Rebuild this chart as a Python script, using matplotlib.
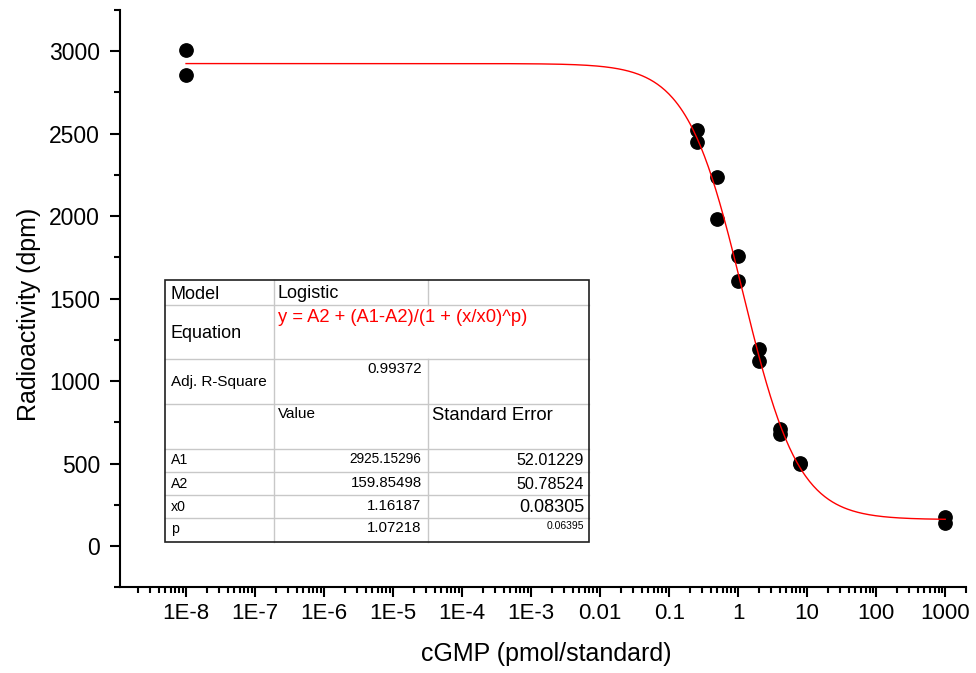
import numpy as np
import matplotlib
matplotlib.use("Agg")
import matplotlib.pyplot as plt
from matplotlib.ticker import FixedLocator, MultipleLocator, LogLocator, NullFormatter
from matplotlib.patches import Rectangle

plt.rcParams["font.family"] = ["Liberation Sans", "DejaVu Sans"]

# cGMP standards (duplicates) and measured radioactivity
CGMP = [1e-8, 1e-8, 0.25, 0.25, 0.5, 0.5, 1, 1, 2, 2, 4, 4, 8, 8, 1000, 1000]
DPM = [3005, 2858, 2525, 2452, 2238, 1983, 1757, 1605, 1192, 1121, 712, 677, 504, 498, 178, 137]

# logistic fit results
PARAM_NAMES = ["A1", "A2", "x0", "p"]
PARAM_VALUES = [2925.15296, 159.85498, 1.16187, 1.07218]
PARAM_ERRORS = [52.01229, 50.78524, 0.08305, 0.06395]
ADJ_R2 = 0.99372
MODEL = "Logistic"
EQUATION = "y = A2 + (A1-A2)/(1 + (x/x0)^p)"

X_TICKS = [1e-8, 1e-7, 1e-6, 1e-5, 1e-4, 1e-3, 1e-2, 1e-1, 1, 10, 100, 1000]
X_TICK_LABELS = ["1E-8", "1E-7", "1E-6", "1E-5", "1E-4", "1E-3",
                 "0.01", "0.1", "1", "10", "100", "1000"]
Y_TICKS = [0, 500, 1000, 1500, 2000, 2500, 3000]

W, H = 976, 673


def logistic(x, a1, a2, x0, p):
    return a2 + (a1 - a2) / (1 + (x / x0) ** p)


def draw_fit_table(tab):
    cols = [165, 273.5, 427.5, 589]
    rows = [280, 304.5, 358.5, 403.5, 448.5, 471.7, 495, 518.3, 541.5]
    grid = "#c8c8c8"

    tab.add_patch(Rectangle((cols[0], rows[0]), cols[-1] - cols[0], rows[-1] - rows[0],
                            facecolor="white", edgecolor="none", zorder=1))
    for y in rows[1:-1]:
        tab.plot([cols[0], cols[-1]], [y, y], color=grid, lw=1.0, zorder=2)
    tab.plot([cols[1], cols[1]], [rows[0], rows[-1]], color=grid, lw=1.0, zorder=2)
    # equation cell spans the last two columns
    tab.plot([cols[2], cols[2]], [rows[0], rows[1]], color=grid, lw=1.0, zorder=2)
    tab.plot([cols[2], cols[2]], [rows[2], rows[-1]], color=grid, lw=1.0, zorder=2)
    tab.add_patch(Rectangle((cols[0], rows[0]), cols[-1] - cols[0], rows[-1] - rows[0],
                            facecolor="none", edgecolor="#202020", lw=1.2, zorder=3))

    lx = cols[0] + 6
    vx = cols[2] - 6
    ex = cols[3] - 5
    kw = dict(va="baseline", zorder=4)
    tab.text(lx, 299, "Model", fontsize=13, **kw)
    tab.text(cols[1] + 4, 298, MODEL, fontsize=13, **kw)
    tab.text(lx, 337.5, "Equation", fontsize=13, **kw)
    tab.text(cols[1] + 4, 321.5, EQUATION, fontsize=13.2, color="#ff0000", **kw)
    tab.text(lx, 386, "Adj. R-Square", fontsize=11, **kw)
    tab.text(vx, 373, f"{ADJ_R2:.5f}", fontsize=10.8, ha="right", **kw)
    tab.text(cols[1] + 4, 417.5, "Value", fontsize=11, **kw)
    tab.text(cols[2] + 5, 420, "Standard Error", fontsize=13.3, **kw)

    base = [464.3, 488.3, 511.3, 533]
    val_sizes = [9.8, 10.8, 10.8, 10.8]
    err_sizes = [11.6, 11.6, 13, 7.5]
    err_shift = [0.5, 0.5, 0.5, -4]
    for i, name in enumerate(PARAM_NAMES):
        yb = base[i]
        tab.text(lx, yb, name, fontsize=10.2, **kw)
        tab.text(vx, yb - 1.5, f"{PARAM_VALUES[i]:.5f}", fontsize=val_sizes[i], ha="right", **kw)
        tab.text(ex, yb + err_shift[i], f"{PARAM_ERRORS[i]:.5f}", fontsize=err_sizes[i],
                 ha="right", **kw)


fig = plt.figure(figsize=(W / 100, H / 100), dpi=100)
ax = fig.add_axes([120 / W, 1 - 587.2 / H, (966 - 120) / W, (587.2 - 10) / H])

ax.plot(CGMP, DPM, "o", color="black", ms=9.6, zorder=3)
xs = np.logspace(np.log10(min(CGMP)), np.log10(max(CGMP)), 600)
ax.plot(xs, logistic(xs, *PARAM_VALUES), color="#ff0000", lw=1.0, zorder=4)

ax.set_xscale("log")
ax.set_xlim(1.105e-9, 2000)
ax.set_ylim(-250, 3250)

ax.xaxis.set_major_locator(FixedLocator(X_TICKS))
ax.set_xticklabels(X_TICK_LABELS)
ax.xaxis.set_minor_locator(LogLocator(base=10, subs=np.arange(2, 10), numticks=30))
ax.xaxis.set_minor_formatter(NullFormatter())
ax.yaxis.set_major_locator(FixedLocator(Y_TICKS))
ax.yaxis.set_minor_locator(MultipleLocator(250))

for side in ["top", "right"]:
    ax.spines[side].set_visible(False)
for side in ["left", "bottom"]:
    ax.spines[side].set_linewidth(1.5)

ax.tick_params(axis="both", which="major", direction="out", length=7.5, width=1.5)
ax.tick_params(axis="both", which="minor", direction="out", length=4, width=1.5)
ax.tick_params(axis="x", which="major", labelsize=16, pad=4)
ax.tick_params(axis="y", which="major", labelsize=16.5, pad=7)

ax.set_xlabel("cGMP (pmol/standard)", fontsize=18, va="center")
ax.xaxis.set_label_coords(0.5035, -0.116)
ax.set_ylabel("Radioactivity (dpm)", fontsize=18, va="center")
ax.yaxis.set_label_coords(-0.108, 0.473)

tab = fig.add_axes([0, 0, 1, 1])
tab.set_xlim(0, W)
tab.set_ylim(H, 0)
tab.axis("off")
draw_fit_table(tab)

fig.savefig("out.png", dpi=100)
